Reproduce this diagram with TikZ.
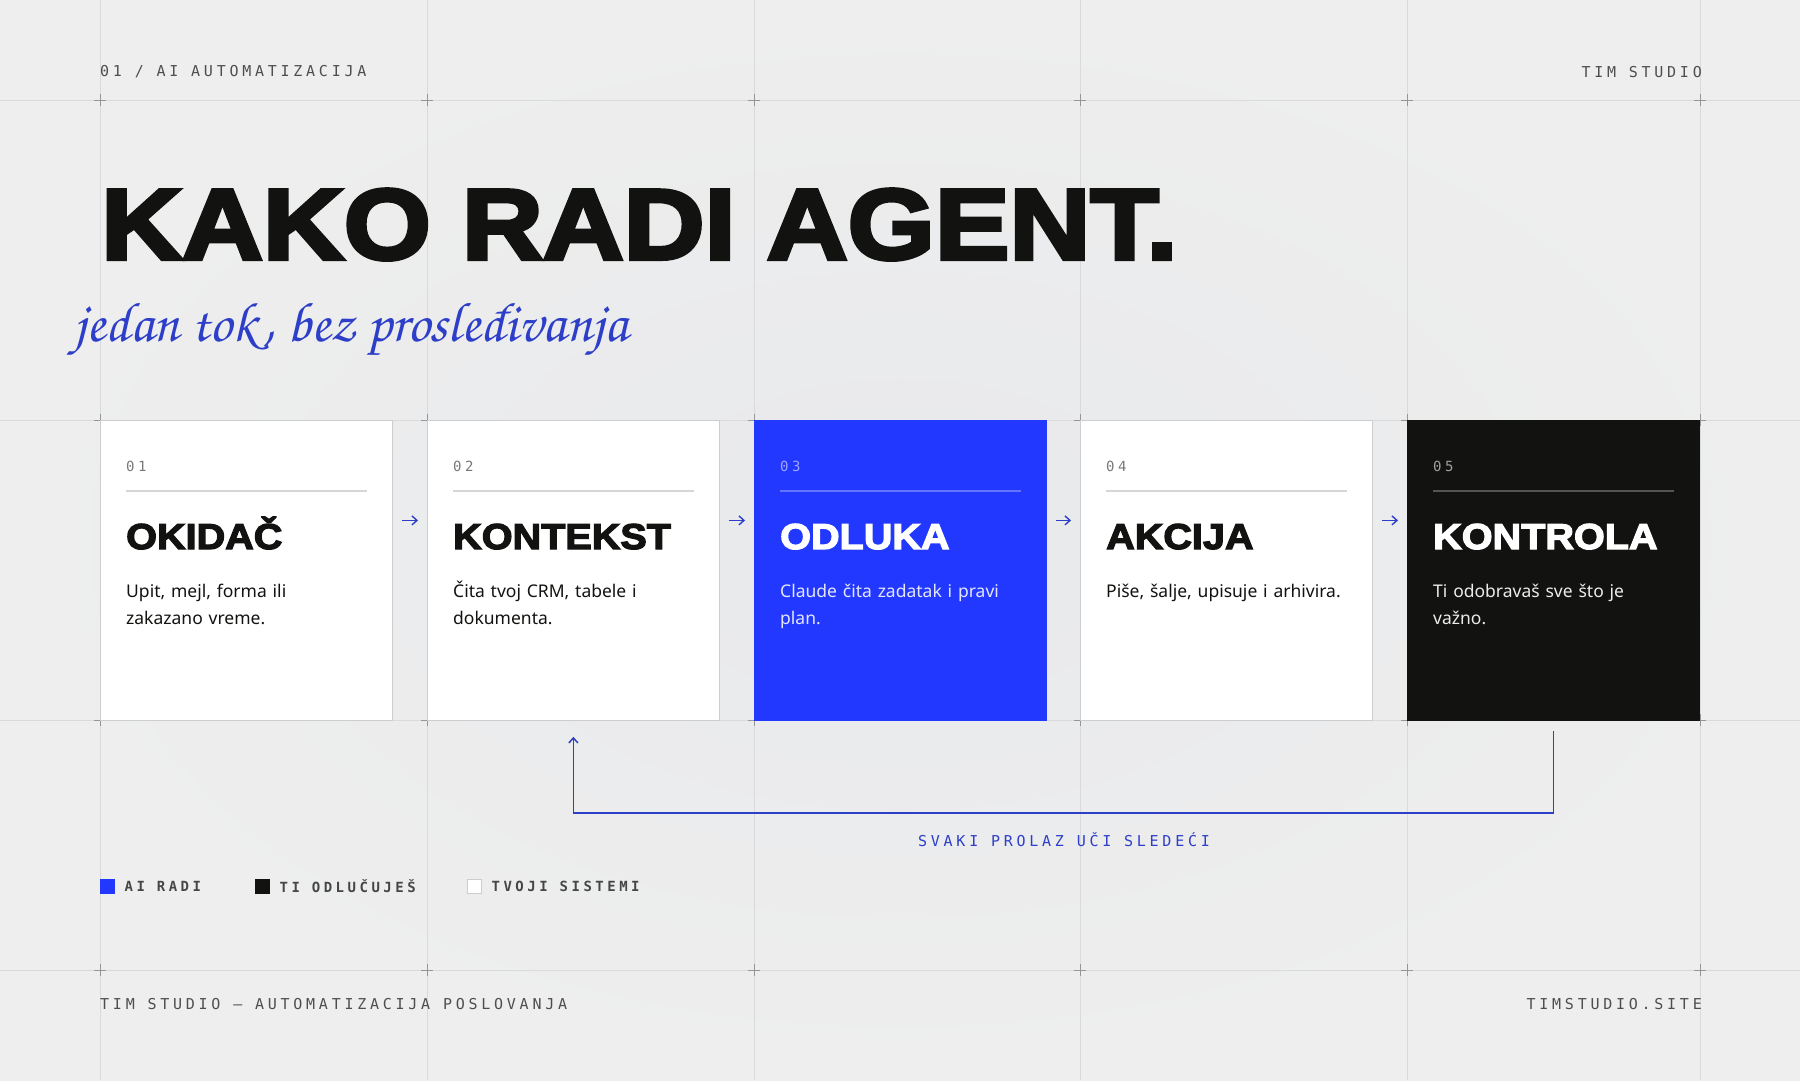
\documentclass[tikz,border=0pt]{standalone}
\usepackage{fontspec}
\usepackage{xcolor}
\usetikzlibrary{positioning, calc, arrows.meta}
\setmainfont{Noto Sans}
\newfontfamily\titlefont{Liberation Sans Bold}[FakeBold=4, FakeStretch=1.12]
\newfontfamily\heavyfont{Liberation Sans Bold}[FakeBold=3.5, FakeStretch=1.1]
\newfontfamily\trackfont{DejaVu Sans Mono}[LetterSpace=25]
\newfontfamily\chorusfont{texgyrechorus-mediumitalic.otf}
\definecolor{bgedge}{RGB}{238,238,238}
\definecolor{bgcenter}{RGB}{232,233,236}
\definecolor{gridgray}{RGB}{218,218,220}
\definecolor{crossgray}{RGB}{150,150,150}
\definecolor{ink}{RGB}{18,18,16}
\definecolor{aiblue}{RGB}{34,56,255}
\definecolor{linkblue}{RGB}{45,62,200}
\definecolor{headgray}{RGB}{78,78,78}
\definecolor{numgray}{RGB}{120,120,120}
\definecolor{divgray}{RGB}{214,214,214}
\definecolor{cardedge}{RGB}{205,205,208}

\begin{document}
\begin{tikzpicture}[x=1pt, y=-1pt, >={Straight Barb[length=5pt, width=9pt]},
    gridline/.style={draw=gridgray, line width=0.9pt},
    cross/.style={draw=crossgray, line width=0.9pt},
    card/.style={draw=cardedge, line width=0.8pt, fill=white, minimum width=292pt, minimum height=300pt, anchor=north west, inner sep=0pt},
    cardnum/.style={anchor=west, inner sep=0pt, font=\trackfont\fontsize{14}{14}\selectfont, text=numgray},
    cardtitle/.style={anchor=base west, inner sep=0pt, font=\heavyfont\fontsize{36}{36}\selectfont, text=ink},
    cardbody/.style={anchor=base west, inner sep=0pt, text width=250pt, align=left, font=\fontsize{17.5}{27.5}\selectfont, text=ink},
    divider/.style={draw=divgray, line width=1.2pt},
    flow/.style={->, draw=linkblue, line width=1.4pt, shorten <=9pt, shorten >=9pt},
    loopline/.style={->, draw=linkblue, line width=1.5pt},
    mono/.style={inner sep=0pt, font=\trackfont\fontsize{15}{15}\selectfont, text=headgray},
    swatch/.style={minimum size=14pt, inner sep=0pt, line width=0.8pt},
    legendtext/.style={inner sep=0pt, font=\trackfont\bfseries\fontsize{14}{14}\selectfont, text=ink!78, anchor=west}]
    \useasboundingbox (0,0) rectangle (1800,1080);
    \shade[inner color=bgcenter, outer color=bgedge] (0,0) rectangle (1800,1080);

    % Mreza
    \foreach \x in {100,427,754,1080,1407,1700}
        \draw[gridline] (\x,0) -- (\x,1080);
    \foreach \y in {100,420,720,970}
        \draw[gridline] (0,\y) -- (1800,\y);
    \foreach \x in {100,427,754,1080,1407,1700}
        \foreach \y in {100,420,720,970}
            \draw[cross] (\x-6,\y) -- (\x+6,\y) (\x,\y-6) -- (\x,\y+6);

    % Zaglavlje
    \node[mono, anchor=west] (hdr) at (100,72) {01 / AI AUTOMATIZACIJA};
    \node[mono, anchor=east] (brand) at (1702,72) {TIM STUDIO};
    \node[anchor=base west, inner sep=0pt, text=ink, font=\titlefont\fontsize{100}{100}\selectfont] (title) at (101,259) {KAKO RADI AGENT.};
    \node[anchor=base west, inner sep=0pt, text=linkblue, font=\chorusfont\fontsize{56}{56}\selectfont] (tagline) at (74,341) {jedan tok, bez prosleđivanja};

    % Kartice
    \node[card] (k1) at (100,420) {};
    \node[cardnum] (n1) at ($(k1.north west)+(26,46)$) {01};
    \draw[divider] ($(k1.north west)+(26,71)$) -- ($(k1.north east)+(-26,71)$);
    \node[cardtitle] (t1) at ($(k1.north west)+(26,129)$) {OKIDAČ};
    \node[cardbody] (b1) at ($(k1.north west)+(26,177)$) {Upit, mejl, forma ili\\zakazano vreme.};

    \node[card] (k2) at (427,420) {};
    \node[cardnum] (n2) at ($(k2.north west)+(26,46)$) {02};
    \draw[divider] ($(k2.north west)+(26,71)$) -- ($(k2.north east)+(-26,71)$);
    \node[cardtitle] (t2) at ($(k2.north west)+(26,129)$) {KONTEKST};
    \node[cardbody] (b2) at ($(k2.north west)+(26,177)$) {Čita tvoj CRM, tabele i\\dokumenta.};

    \node[card, fill=aiblue, draw=aiblue] (k3) at (754,420) {};
    \node[cardnum, text=aiblue!45!white] (n3) at ($(k3.north west)+(26,46)$) {03};
    \draw[divider, draw=aiblue!70!white] ($(k3.north west)+(26,71)$) -- ($(k3.north east)+(-26,71)$);
    \node[cardtitle, text=white] (t3) at ($(k3.north west)+(26,129)$) {ODLUKA};
    \node[cardbody, text=white!88!aiblue] (b3) at ($(k3.north west)+(26,177)$) {Claude čita zadatak i pravi\\plan.};

    \node[card] (k4) at (1080,420) {};
    \node[cardnum] (n4) at ($(k4.north west)+(26,46)$) {04};
    \draw[divider] ($(k4.north west)+(26,71)$) -- ($(k4.north east)+(-26,71)$);
    \node[cardtitle] (t4) at ($(k4.north west)+(26,129)$) {AKCIJA};
    \node[cardbody] (b4) at ($(k4.north west)+(26,177)$) {Piše, šalje, upisuje i arhivira.};

    \node[card, fill=ink, draw=ink] (k5) at (1407,420) {};
    \node[cardnum, text=white!60!ink] (n5) at ($(k5.north west)+(26,46)$) {05};
    \draw[divider, draw=white!28!ink] ($(k5.north west)+(26,71)$) -- ($(k5.north east)+(-26,71)$);
    \node[cardtitle, text=white] (t5) at ($(k5.north west)+(26,129)$) {KONTROLA};
    \node[cardbody, text=white!92!ink] (b5) at ($(k5.north west)+(26,177)$) {Ti odobravaš sve što je\\važno.};

    % Strelice
    \draw[flow] ([yshift=50pt]k1.east) -- ([yshift=50pt]k2.west);
    \draw[flow] ([yshift=50pt]k2.east) -- ([yshift=50pt]k3.west);
    \draw[flow] ([yshift=50pt]k3.east) -- ([yshift=50pt]k4.west);
    \draw[flow] ([yshift=50pt]k4.east) -- ([yshift=50pt]k5.west);

    % Povratna petlja
    \draw[loopline] ([yshift=-10pt]k5.south) -- ++(0,82) -| ([yshift=-16pt]k2.south);
    \node[mono, text=linkblue] (looplabel) at (1064,840) {SVAKI PROLAZ UČI SLEDEĆI};

    % Legenda
    \node[swatch, fill=aiblue, draw=aiblue] (sw1) at (107,886) {};
    \node[legendtext, right=10pt of sw1] (lg1) {AI RADI};
    \node[swatch, fill=ink, draw=ink] (sw2) at (262,886) {};
    \node[legendtext, right=10pt of sw2] (lg2) {TI ODLUČUJEŠ};
    \node[swatch, fill=white, draw=cardedge] (sw3) at (474,886) {};
    \node[legendtext, right=10pt of sw3] (lg3) {TVOJI SISTEMI};

    % Podnozje
    \node[mono, anchor=west] (foot) at (100,1004) {TIM STUDIO — AUTOMATIZACIJA POSLOVANJA};
    \node[mono, anchor=east] (site) at (1702,1004) {TIMSTUDIO.SITE};
\end{tikzpicture}
\end{document}
